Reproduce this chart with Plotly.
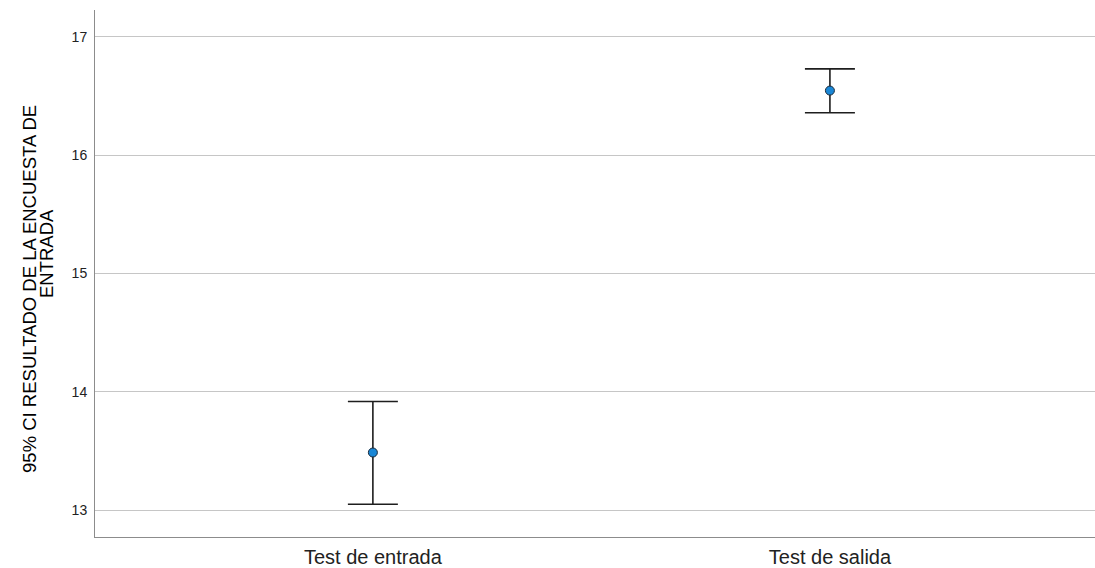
import plotly.graph_objects as go

categories = ["Test de entrada", "Test de salida"]
means = [13.487, 16.546]
upper = [13.918, 16.729]
lower = [13.050, 16.359]
y_ticks = [13, 14, 15, 16, 17]

xpos = list(range(len(categories)))
err_plus = [u - m for u, m in zip(upper, means)]
err_minus = [m - l for m, l in zip(means, lower)]

fig = go.Figure()
fig.add_trace(go.Scatter(
    x=xpos, y=means, mode="markers",
    marker=dict(size=9, color="#1a87d6", line=dict(color="#1a2a3a", width=1)),
    error_y=dict(type="data", symmetric=False, array=err_plus, arrayminus=err_minus,
                 color="#1e1e1e", thickness=1.6, width=25),
    showlegend=False, hoverinfo="skip",
))

fig.update_layout(
    width=1095, height=568,
    margin=dict(l=95, r=0, t=10, b=29),
    paper_bgcolor="white", plot_bgcolor="white",
    font=dict(family="Arial, Liberation Sans, sans-serif", color="#222"),
    xaxis=dict(range=[-0.608, 1.580], tickvals=xpos, ticktext=categories,
               showgrid=False, zeroline=False, showline=True, linecolor="#8c8c8c",
               linewidth=1, ticks="outside", ticklen=2, tickcolor="rgba(0,0,0,0)",
               tickfont=dict(size=20, color="#222")),
    yaxis=dict(range=[12.773, 17.227], tickvals=y_ticks, showgrid=True,
               gridcolor="#c6c6c6", gridwidth=1, zeroline=False, showline=True,
               linecolor="#8c8c8c", linewidth=1, ticks="outside", ticklen=4,
               tickcolor="rgba(0,0,0,0)", tickfont=dict(size=14, color="#222")),
)

title_font = dict(family="Arial, Liberation Sans, sans-serif", size=18.5, color="#000")
fig.add_annotation(
    text="95% CI RESULTADO DE LA ENCUESTA DE",
    xref="paper", yref="paper", x=(30 - 95) / 1000, y=1 - (290 - 10) / 529, textangle=-90,
    showarrow=False, xanchor="center", yanchor="middle", font=title_font,
)
fig.add_annotation(
    text="ENTRADA",
    xref="paper", yref="paper", x=(46 - 95) / 1000, y=1 - (255 - 10) / 529, textangle=-90,
    showarrow=False, xanchor="center", yanchor="middle", font=title_font,
)

fig.write_html("out.html", config={"displayModeBar": False},
               post_script="document.body.style.margin='0';document.body.style.overflow='hidden';")
